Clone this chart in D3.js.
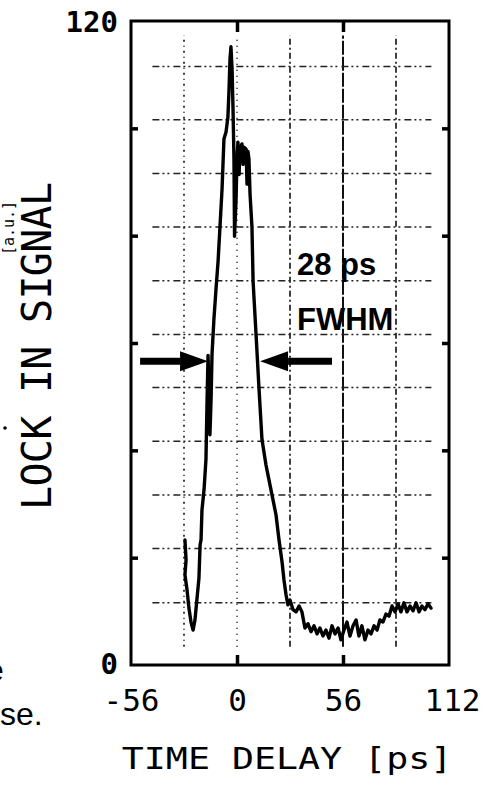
<!DOCTYPE html>
<html>
<head>
<meta charset="utf-8">
<script src="https://cdn.jsdelivr.net/npm/d3@7"></script>
<style>
  html, body { margin: 0; padding: 0; background: #fff; }
  svg { display: block; }
</style>
</head>
<body>
<svg width="490" height="785"></svg>
<script>
// scanned lock-in trace (time ps, signal a.u.)
var traceTime = [-27.5, -26.9, -27.5, -26.4, -25.4, -24.3, -23.2, -22.2, -21.1, -20.1,
  -19.5, -19.0, -18.5, -17.4, -16.4, -15.8, -15.3, -14.3, -13.7, -13.2,
  -12.2, -11.1, -10.0, -9.0, -7.9, -7.4, -6.9, -5.8, -4.8, -4.2,
  -3.7, -3.2, -2.6, -2.1, -1.6, -1.3, -0.5, 0.0, 0.5, 1.1,
  1.6, 2.6, 3.2, 3.7, 4.8, 5.3, 5.8, 6.3, 6.9, 7.9,
  8.5, 10.0, 11.6, 13.2, 15.3, 17.4, 19.0, 20.6, 22.2, 23.8,
  24.8, 25.9, 26.9, 28.0, 29.6, 31.2, 32.8, 34.3, 35.9, 37.5,
  39.1, 40.7, 42.3, 43.8, 45.4, 47.0, 48.6, 50.2, 51.8, 53.4,
  54.9, 56.5, 58.1, 59.7, 61.3, 62.9, 64.4, 66.0, 67.6, 69.2,
  70.8, 72.4, 74.0, 75.5, 77.1, 78.7, 80.3, 81.9, 83.5, 85.1,
  86.6, 88.2, 89.8, 91.4, 93.0, 94.6, 96.2, 97.7, 99.3, 100.9, 102.5];
var traceSignal = [23.3, 19.6, 16.8, 14.0, 10.6, 8.0, 6.5, 8.4, 12.5, 16.2,
  22.4, 23.3, 28.9, 32.7, 38.3, 49.5, 57.7, 42.9, 49.5, 57.9,
  64.4, 70.0, 75.2, 81.6, 88.7, 93.3, 98.0, 99.3, 102.1, 107.3,
  112.9, 115.2, 111.0, 103.6, 94.3, 79.9, 86.8, 94.3, 97.4, 91.4,
  96.1, 97.1, 93.3, 96.5, 96.1, 89.6, 95.7, 94.3, 87.7, 81.6,
  71.5, 62.0, 51.7, 42.0, 37.3, 33.6, 30.8, 28.0, 23.3, 19.2,
  15.9, 13.1, 11.2, 12.1, 10.3, 9.9, 11.0, 9.9, 6.9, 7.7,
  6.2, 7.3, 5.8, 6.9, 5.4, 6.5, 5.0, 7.3, 5.8, 6.9,
  4.7, 6.5, 8.0, 5.4, 7.3, 8.4, 5.4, 7.3, 4.7, 6.5,
  5.8, 7.3, 6.5, 8.4, 8.0, 9.5, 9.1, 11.0, 9.9, 11.4,
  9.9, 11.6, 9.9, 11.0, 10.1, 11.6, 9.9, 11.0, 10.3, 11.4, 10.6];

var xTickLabels = [-56, 0, 56, 112];
var xInnerTicks = [0, 56];
var yInnerTicks = [20, 40, 60, 80, 100];
var yTickLabels = [0, 120];
var gridX = [-28, 0, 28, 56, 84];
var gridY = [11.6, 21.7, 31.7, 41.7, 51.7, 61.6, 71.6, 81.6, 91.6, 101.6, 111.5];
var gridXExtent = [-44.7, 102.7];
var gridYExtent = [3.4, 117.3];
var fwhmLevel = 56.6;
var fwhmArrows = [[-51.2, -15.3], [50.2, 12.2]];
var fwhmText = ["28 ps", "FWHM"];

var svg = d3.select("svg");
var mono = "'DejaVu Sans Mono', 'Liberation Mono', monospace";

var x = d3.scaleLinear().domain([-56, 112]).range([131, 449]);
var y = d3.scaleLinear().domain([0, 120]).range([665, 21]);

var data = traceTime.map((t, i) => ({ t: t, v: traceSignal[i] }));

// grid, dash-dot like the plotter overlay
var vDash = ["2,4,1,4", "1,5", "6,3,2,3", "14,2", "6,3,2,3"];
svg.append("g").selectAll("line")
    .data(gridX)
    .join("line")
    .attr("x1", d => x(d)).attr("x2", d => x(d))
    .attr("y1", y(gridYExtent[0])).attr("y2", y(gridYExtent[1]))
    .attr("stroke", "#111")
    .attr("stroke-width", (d, i) => i == 3 ? 2 : 1.6)
    .attr("stroke-dasharray", (d, i) => vDash[i]);

svg.append("g").selectAll("line")
    .data(gridY)
    .join("line")
    .attr("x1", x(gridXExtent[0])).attr("x2", x(gridXExtent[1]))
    .attr("y1", d => y(d)).attr("y2", d => y(d))
    .attr("stroke", "#222")
    .attr("stroke-width", 1.5)
    .attr("stroke-dasharray", "7,3,2,3,2,4");

// frame
svg.append("rect")
    .attr("x", x(-56)).attr("y", y(120))
    .attr("width", x(112) - x(-56)).attr("height", y(0) - y(120))
    .attr("fill", "none")
    .attr("stroke", "#000")
    .attr("stroke-width", 3);

// inner ticks on all four sides
svg.append("g")
    .attr("transform", "translate(0," + y(0) + ")")
    .call(d3.axisBottom(x).tickValues(xInnerTicks).tickSize(-10).tickFormat(""))
    .call(g => g.select(".domain").remove())
    .selectAll("line").attr("stroke-width", 3.5);
svg.append("g")
    .attr("transform", "translate(0," + y(120) + ")")
    .call(d3.axisTop(x).tickValues(xInnerTicks).tickSize(-11).tickFormat(""))
    .call(g => g.select(".domain").remove())
    .selectAll("line").attr("stroke-width", 3.5);
svg.append("g")
    .attr("transform", "translate(" + x(-56) + ",0)")
    .call(d3.axisLeft(y).tickValues(yInnerTicks).tickSize(-7).tickFormat(""))
    .call(g => g.select(".domain").remove())
    .selectAll("line").attr("stroke-width", 3.5);
svg.append("g")
    .attr("transform", "translate(" + x(112) + ",0)")
    .call(d3.axisRight(y).tickValues(yInnerTicks).tickSize(-7).tickFormat(""))
    .call(g => g.select(".domain").remove())
    .selectAll("line").attr("stroke-width", 3.5);

// tick labels
var xAxis = svg.append("g")
    .attr("transform", "translate(0," + y(0) + ")")
    .call(d3.axisBottom(x).tickValues(xTickLabels).tickSize(0).tickPadding(24).tickFormat(d => d == 0 ? "0" : d));
xAxis.select(".domain").remove();
xAxis.selectAll("text")
    .attr("font-family", mono)
    .attr("font-size", 31)
    .attr("fill", "#000")
    .attr("dx", (d, i) => i == 3 ? 3 : 0);

var yAxis = svg.append("g")
    .attr("transform", "translate(" + (x(-56) - 13) + ",0)")
    .call(d3.axisLeft(y).tickValues(yTickLabels).tickSize(0).tickPadding(0));
yAxis.select(".domain").remove();
yAxis.selectAll("text")
    .attr("font-family", mono)
    .attr("font-weight", "bold")
    .attr("font-size", 29)
    .attr("fill", "#000")
    .attr("dy", d => d == 120 ? "0.36em" : "0.3em");

// axis titles
svg.append("text")
    .attr("transform", "translate(287,769) scale(1.22,1)")
    .attr("text-anchor", "middle")
    .attr("font-family", mono)
    .attr("font-size", 30)
    .text("TIME DELAY [ps]");

svg.append("text")
    .attr("transform", "translate(51,346) rotate(-90)")
    .attr("text-anchor", "middle")
    .attr("font-family", mono)
    .attr("font-size", 40)
    .attr("textLength", 328)
    .attr("lengthAdjust", "spacing")
    .text("LOCK IN SIGNAL");

// scan leftovers at the page edge
svg.append("text")
    .attr("transform", "translate(14,228) rotate(-90)")
    .attr("text-anchor", "middle")
    .attr("font-family", mono)
    .attr("font-size", 15)
    .text("[a.u.]");
svg.append("circle").attr("cx", 5).attr("cy", 428).attr("r", 1.8).attr("fill", "#000");
svg.append("text")
    .attr("x", -14).attr("y", 681)
    .attr("font-family", "'Liberation Sans', Arial, sans-serif")
    .attr("font-size", 32)
    .text("e");
svg.append("text")
    .attr("x", 0).attr("y", 725)
    .attr("font-family", "'Liberation Sans', Arial, sans-serif")
    .attr("font-size", 32)
    .text("se.");

// trace
var line = d3.line()
    .x(d => x(d.t))
    .y(d => y(d.v));

svg.append("path")
    .datum(data)
    .attr("fill", "none")
    .attr("stroke", "#000")
    .attr("stroke-width", 3.4)
    .attr("stroke-linejoin", "round")
    .attr("stroke-linecap", "round")
    .attr("d", line);

// FWHM arrows
fwhmArrows.forEach(a => {
    var x0 = x(a[0]), x1 = x(a[1]), yy = y(fwhmLevel);
    var dir = x1 > x0 ? 1 : -1;
    var head = 28;
    svg.append("line")
        .attr("x1", x0).attr("x2", x1 - dir * head)
        .attr("y1", yy).attr("y2", yy)
        .attr("stroke", "#000")
        .attr("stroke-width", 7);
    svg.append("path")
        .attr("d", "M" + x1 + "," + yy +
            "L" + (x1 - dir * head) + "," + (yy - 10) +
            "L" + (x1 - dir * head) + "," + (yy + 10) + "Z")
        .attr("fill", "#000");
});

svg.append("g").selectAll("text")
    .data(fwhmText)
    .join("text")
    .attr("x", 297)
    .attr("y", (d, i) => 275 + i * 55)
    .attr("font-family", "'Liberation Sans', Arial, sans-serif")
    .attr("font-weight", "bold")
    .attr("font-size", 31)
    .attr("fill", "#000")
    .text(d => d);
</script>
</body>
</html>
